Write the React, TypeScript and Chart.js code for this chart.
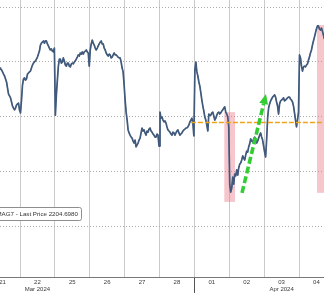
import React, { useEffect, useRef } from "react";
import { Chart, registerables } from "chart.js";

Chart.register(...registerables);

// ---- categories / tick labels ----
const DAY_LABELS: string[][] = [
  ["21"], ["22", "Mar 2024"], ["25"], ["26"], ["27"], ["28"],
  ["01"], ["02"], ["03", "Apr 2024"], ["04"],
];
const BARS_PER_DAY = 35;

// ---- MAG7 intraday prices (one bar ~ 11 min) ----
const mar21 = [2277.7, 2277.3, 2277.0, 2276.3, 2275.5, 2274.8, 2273.7, 2272.6, 2270.4, 2268.2, 2267.5, 2266.8, 2265.3, 2263.8, 2263.1, 2262.4, 2263.1, 2264.2, 2264.6, 2264.9, 2262.4];
const MAR21_FIRST_BAR = 14;
const mar22 = [2261.3, 2266.0, 2271.5, 2273.7, 2274.1, 2273.3, 2273.7, 2275.5, 2275.9, 2276.3, 2276.6, 2277.7, 2278.8, 2279.5, 2279.9, 2280.3, 2281.0, 2281.7, 2282.8, 2283.9, 2286.1, 2286.8, 2287.2, 2287.6, 2286.8, 2287.6, 2287.6, 2286.5, 2285.8, 2285.0, 2284.3, 2284.7, 2283.9, 2283.6, 2285.0];
const mar25 = [2260.5, 2267.9, 2273.3, 2278.4, 2281.0, 2281.0, 2279.5, 2279.9, 2281.4, 2280.3, 2278.8, 2278.4, 2279.5, 2279.5, 2278.4, 2278.1, 2279.2, 2279.5, 2279.2, 2279.9, 2280.3, 2281.0, 2281.7, 2282.5, 2282.1, 2283.2, 2282.8, 2283.6, 2282.8, 2283.6, 2283.9, 2284.3, 2283.6, 2283.2, 2278.4];
const mar26 = [2284.3, 2286.5, 2287.9, 2286.8, 2286.1, 2285.0, 2284.3, 2285.0, 2285.8, 2286.5, 2287.2, 2287.6, 2286.5, 2286.5, 2285.0, 2284.3, 2283.2, 2282.5, 2282.1, 2282.8, 2282.5, 2281.4, 2281.7, 2282.5, 2283.2, 2282.5, 2282.5, 2282.1, 2281.7, 2281.4, 2281.4, 2279.9, 2277.7, 2276.3, 2271.5];
const mar27 = [2266.0, 2261.6, 2258.7, 2255.1, 2254.0, 2253.2, 2252.5, 2252.1, 2251.0, 2250.3, 2251.4, 2248.9, 2249.6, 2250.3, 2251.4, 2252.1, 2254.0, 2255.8, 2254.7, 2255.1, 2254.0, 2253.2, 2254.7, 2254.3, 2255.4, 2255.8, 2254.7, 2254.3, 2253.6, 2253.2, 2252.5, 2252.5, 2253.6, 2253.2, 2249.2];
const mar28 = [2261.6, 2259.4, 2259.8, 2258.7, 2258.0, 2258.4, 2257.6, 2256.2, 2255.1, 2254.7, 2254.3, 2253.6, 2253.2, 2254.3, 2254.0, 2253.2, 2254.0, 2254.7, 2255.1, 2254.0, 2253.2, 2253.6, 2254.0, 2254.7, 2255.1, 2255.4, 2255.8, 2255.8, 2256.2, 2256.9, 2258.0, 2258.7, 2259.4, 2257.6, 2252.9];
const apr01 = [2277.0, 2279.9, 2276.3, 2274.8, 2272.6, 2271.1, 2268.6, 2266.0, 2263.8, 2262.0, 2259.8, 2258.7, 2256.9, 2254.7, 2260.9, 2260.5, 2260.5, 2261.3, 2261.6, 2260.2, 2258.7, 2259.4, 2260.5, 2261.3, 2261.6, 2260.9, 2261.3, 2262.0, 2262.4, 2263.1, 2263.5, 2261.6, 2260.9, 2259.8, 2256.2];
const apr02 = [2235.0, 2232.4, 2233.9, 2237.9, 2235.3, 2239.0, 2238.3, 2240.5, 2238.6, 2241.2, 2242.6, 2243.0, 2244.1, 2245.6, 2244.8, 2244.1, 2245.9, 2247.4, 2247.0, 2248.9, 2250.0, 2251.8, 2251.0, 2250.7, 2251.8, 2252.5, 2251.4, 2250.3, 2251.0, 2252.1, 2253.2, 2254.0, 2252.5, 2251.4, 2249.2];
const apr03 = [2247.0, 2245.2, 2251.4, 2259.4, 2263.1, 2264.6, 2265.7, 2266.4, 2267.1, 2267.5, 2267.9, 2267.1, 2265.3, 2263.8, 2260.9, 2264.6, 2265.7, 2266.0, 2266.4, 2266.8, 2265.7, 2266.0, 2266.4, 2266.8, 2267.1, 2267.1, 2266.4, 2266.0, 2265.3, 2263.8, 2261.3, 2258.7, 2256.2, 2258.7, 2261.6];
const apr04 = [2282.5, 2281.4, 2278.4, 2276.6, 2278.1, 2278.4, 2278.1, 2278.8, 2279.2, 2280.6, 2281.7, 2283.2, 2284.3, 2286.1, 2287.6, 2289.0, 2290.5, 2292.0, 2293.1, 2293.1, 2292.0, 2291.6, 2292.3, 2291.2, 2289.8, 2288.3];

const SESSIONS = [
  { day: 0, firstBar: MAR21_FIRST_BAR, values: mar21 },
  { day: 1, firstBar: 0, values: mar22 },
  { day: 2, firstBar: 0, values: mar25 },
  { day: 3, firstBar: 0, values: mar26 },
  { day: 4, firstBar: 0, values: mar27 },
  { day: 5, firstBar: 0, values: mar28 },
  { day: 6, firstBar: 0, values: apr01 },
  { day: 7, firstBar: 0, values: apr02 },
  { day: 8, firstBar: 0, values: apr03 },
  { day: 9, firstBar: 0, values: apr04 },
];

// ---- axis ranges / gridlines ----
const X_MIN = 0.4265;
const X_MAX = 9.7168;
const Y_MIN = 2201.37;
const Y_MAX = 2302.56;
const Y_GRID = [2220, 2240, 2260, 2280, 2300];
const MONTH_SEPARATOR_INDEX = 6;

// ---- annotations (data units) ----
const REF_LEVEL = 2258.0;
const REF_FROM = 5.9;
const PINK_ZONES = [
  { from: 6.858, to: 7.165, top: 2261.6, bottom: 2228.8 },
  { from: 9.516, to: 10.3, top: 2293.4, bottom: 2232.1 },
];
const ARROW = { from: { x: 7.366, y: 2232.1 }, to: { x: 8.054, y: 2268.2 } };
const LEGEND_TEXT = "MAG7 - Last Price 2204.6980";

const annotationPlugin = {
  id: "annotations",
  beforeDatasetsDraw(chart: any) {
    const { ctx, chartArea, scales } = chart;
    const xs = scales.x, ys = scales.y;
    ctx.save();
    ctx.beginPath();
    ctx.rect(chartArea.left, chartArea.top, chartArea.right - chartArea.left, chartArea.bottom - chartArea.top);
    ctx.clip();
    ctx.fillStyle = "rgba(236, 120, 135, 0.42)";
    for (const z of PINK_ZONES) {
      const x0 = xs.getPixelForValue(z.from);
      const x1 = xs.getPixelForValue(z.to);
      const y0 = ys.getPixelForValue(z.top);
      const y1 = ys.getPixelForValue(z.bottom);
      ctx.fillRect(x0, y0, x1 - x0, y1 - y0);
    }
    ctx.restore();
  },
  afterDatasetsDraw(chart: any) {
    const { ctx, chartArea, scales } = chart;
    const xs = scales.x, ys = scales.y;
    ctx.save();
    ctx.beginPath();
    ctx.rect(chartArea.left, chartArea.top, chartArea.right - chartArea.left, chartArea.bottom - chartArea.top);
    ctx.clip();
    // reference level
    const ry = Math.round(ys.getPixelForValue(REF_LEVEL)) + 0.5;
    ctx.strokeStyle = "#eea31a";
    ctx.lineWidth = 1.3;
    ctx.setLineDash([5, 2]);
    ctx.beginPath();
    ctx.moveTo(xs.getPixelForValue(REF_FROM), ry);
    ctx.lineTo(chartArea.right, ry);
    ctx.stroke();
    // green arrow
    const p0 = { x: xs.getPixelForValue(ARROW.from.x), y: ys.getPixelForValue(ARROW.from.y) };
    const p1 = { x: xs.getPixelForValue(ARROW.to.x), y: ys.getPixelForValue(ARROW.to.y) };
    const dx = p1.x - p0.x, dy = p1.y - p0.y;
    const len = Math.hypot(dx, dy);
    const ux = dx / len, uy = dy / len;
    const headLen = 10, headHalf = 4.5;
    const bx = p1.x - ux * headLen, by = p1.y - uy * headLen;
    ctx.strokeStyle = "#34cc34";
    ctx.fillStyle = "#34cc34";
    ctx.lineWidth = 3.6;
    ctx.setLineDash([7, 3]);
    ctx.beginPath();
    ctx.moveTo(p0.x, p0.y);
    ctx.lineTo(bx, by);
    ctx.stroke();
    ctx.setLineDash([]);
    ctx.beginPath();
    ctx.moveTo(p1.x, p1.y);
    ctx.lineTo(bx - uy * headHalf, by + ux * headHalf);
    ctx.lineTo(bx + uy * headHalf, by - ux * headHalf);
    ctx.closePath();
    ctx.fill();
    ctx.restore();
  },
  afterDraw(chart: any) {
    const { ctx, chartArea } = chart;
    ctx.save();
    const left = chartArea.left - 6;
    const right = chartArea.left + 81;
    const top = chartArea.top + 207;
    const h = 13;
    ctx.beginPath();
    if ((ctx as any).roundRect) (ctx as any).roundRect(left + 0.5, top + 0.5, right - left, h, 2);
    else ctx.rect(left + 0.5, top + 0.5, right - left, h);
    ctx.fillStyle = "#ffffff";
    ctx.fill();
    ctx.strokeStyle = "#8e8e8e";
    ctx.lineWidth = 1;
    ctx.stroke();
    ctx.fillStyle = "#333333";
    ctx.font = "6.2px 'Liberation Sans', Arial, sans-serif";
    ctx.textAlign = "left";
    ctx.textBaseline = "middle";
    ctx.fillText(LEGEND_TEXT, chartArea.left - 3.6, top + h / 2 + 1);
    ctx.restore();
  },
};

export default function App() {
  const ref = useRef<HTMLCanvasElement | null>(null);
  useEffect(() => {
    if (!ref.current) return;
    const points = SESSIONS.flatMap((s) =>
      s.values.map((v, i) => ({ x: s.day + (s.firstBar + i + 0.5) / BARS_PER_DAY, y: v }))
    );
    const chart = new Chart(ref.current, {
      type: "line",
      data: {
        datasets: [
          { data: points, borderColor: "#41597a", borderWidth: 1.7, pointRadius: 0, tension: 0, borderJoinStyle: "round" },
          { data: points, borderColor: "#5f97d6", borderWidth: 0.8, pointRadius: 0, tension: 0, borderJoinStyle: "round" },
        ],
      },
      options: {
        animation: false,
        responsive: false,
        devicePixelRatio: 1,
        maintainAspectRatio: false,
        layout: { padding: 0 },
        plugins: { legend: { display: false }, tooltip: { enabled: false }, title: { display: false } },
        scales: {
          x: {
            type: "linear",
            min: X_MIN,
            max: X_MAX,
            afterBuildTicks: (s: any) => {
              s.ticks = DAY_LABELS.map((_, i) => ({ value: i + 0.5 }));
            },
            afterFit: (s: any) => {
              s.height = 16;
              s.paddingLeft = 0;
              s.paddingRight = 0;
            },
            ticks: {
              autoSkip: false,
              maxRotation: 0,
              minRotation: 0,
              padding: -14,
              color: "#3a3a3a",
              font: { family: "'Liberation Sans', Arial, sans-serif", size: 6, lineHeight: 7 / 6 },
              callback: (_v: any, i: number) => DAY_LABELS[i],
            },
            grid: {
              offset: true,
              color: "#cacaca",
              lineWidth: 1,
              drawTicks: true,
              tickLength: 16,
              tickWidth: 1,
              tickColor: (c: any) => (c.index === MONTH_SEPARATOR_INDEX ? "#555555" : "rgba(0,0,0,0)"),
            },
            border: { display: true, color: "#777777", width: 1 },
          },
          y: {
            min: Y_MIN,
            max: Y_MAX,
            afterBuildTicks: (s: any) => {
              s.ticks = Y_GRID.map((v) => ({ value: v }));
            },
            ticks: { display: false },
            grid: { color: "#ababab", lineWidth: 1, drawTicks: false },
            border: { display: false, dash: [1, 2] },
          },
        },
      },
      plugins: [annotationPlugin],
    });
    return () => chart.destroy();
  }, []);
  return (
    <div style={{ position: "fixed", left: 0, top: 0, width: 324, height: 293, background: "#fff" }}>
      <canvas ref={ref} width={324} height={293} style={{ width: 324, height: 293, display: "block" }} />
    </div>
  );
}
